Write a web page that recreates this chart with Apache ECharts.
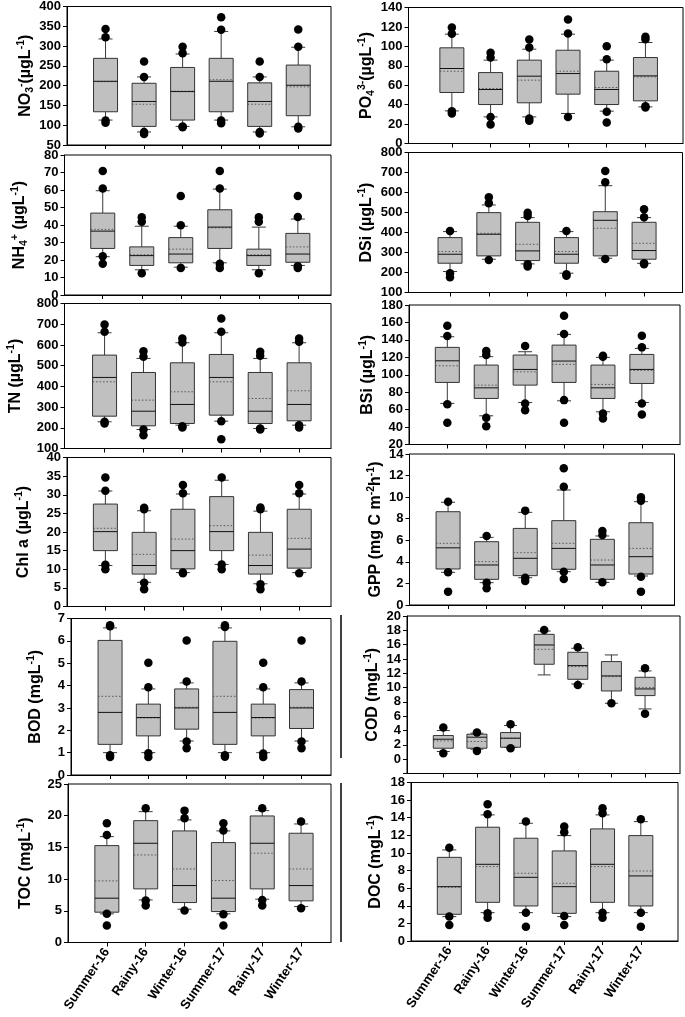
<!DOCTYPE html>
<html><head><meta charset="utf-8">
<script src="https://cdn.jsdelivr.net/npm/echarts@6/dist/echarts.min.js"></script>
<style>html,body{margin:0;padding:0;background:#fff}#c{width:685px;height:1017px}</style>
</head><body><div id="c"></div>
<script>
// ---------------- DATA ----------------
const categories = ['Summer-16','Rainy-16','Winter-16','Summer-17','Rainy-17','Winter-17'];
// stats rows: [lower whisker, Q1, median, Q3, upper whisker]
const NO3_stats = [[113,134,211,269,318],[83,97,160,206,222],[97,113,185,246,280],[113,134,211,269,337],[83,97,160,207,222],[96,124,201,252,297]];
const NO3_mean  = [210,153,186,215,153,197];
const NO3_dots  = [[343,322,112,106],[261,222,83,78],[298,282,97,95],[373,341,112,105],[261,222,83,79],[342,298,96,92]];

const PO4_stats = [[33.6,52.5,77.2,98.5,112.5],[27.4,40.1,55.6,73,85.8],[27.4,41.9,69.3,85.8,97.1],[30.9,50.8,72,96,112.5],[33.3,40.1,55.6,74.4,85.8],[37.7,43.9,69.6,88.5,104]];
const PO4_mean  = [74.4,56.6,65.2,74.4,57.6,68.6];
const PO4_dots  = [[119.4,113,33.3,31],[93.3,88.5,27.4,19.6],[107,98.8,25.7,23.3],[127.6,113.2,27.4],[100.2,86.8,32.6,21.6],[109.8,107.4,38.4,37]];

const NH4_stats = [[21.9,26.6,36.5,46.8,59.6],[14.4,16.9,22.5,27.5,39.3],[15.9,18.4,23.4,32.8,39.3],[18.4,26.6,38.8,48.7,60.5],[14.4,16.9,22.5,26.2,38.8],[16.9,18.7,23.4,35.2,43.4]];
const NH4_mean  = [37.5,23,26.2,38.4,23,27.5];
const NH4_dots  = [[70.8,60.9,22.1,17.8],[44.4,41.8,12.5],[56.6,39.9,15.5],[70.8,60.9,17.8,15.5],[44.4,41.8,12.5],[56.6,44.6,16.5,15.4]];

const DSi_stats = [[204.8,246.4,291.3,374.5,404.5],[266.4,283,391.2,499.3,537.6],[243,259.7,308,451,474.4],[196.5,246.4,291.3,374.5,404.5],[271.4,283,461,504,634],[246,266.4,309.7,451,474.4]];
const DSi_mean  = [304.7,396,341,304.7,421,346];
const DSi_dots  = [[407.8,196.5,176.5],[575.9,545.9,263],[499,482.7,241,229.8],[407.8,191.5,183.2],[707,650.7,268],[516,476,246,241]];

const TN_stats = [[228.8,256,443,550.9,658.8],[191.8,209.5,280,467,534.8],[212.7,220.8,312.6,513.8,610.5],[232,261,443,554,658.8],[196.6,220.8,280,467,534.8],[212.7,233.7,312.6,513.8,610.5]];
const TN_mean  = [422,333.5,373.8,422,341.5,378.6];
const TN_dots  = [[699,663.6,228.8,220.8],[570,542.8,191.8,164.4],[631.4,612,207.9,201.4],[728,663.6,232,145],[567,547.7,196.6,191.8],[631.4,615.3,212.7,201.4]];

const BSi_stats = [[67.1,91.2,116,131.4,143.6],[52.9,72.8,85,111.1,120.7],[68.2,88.1,106.1,122.6,126.4],[70.1,91.2,115.7,134,146.3],[57.5,72.8,85,111.1,119.9],[68.2,90,106.1,123.3,130.2]];
const BSi_mean  = [110.3,88.1,103.4,111.9,88.9,105];
const BSi_dots  = [[156.3,144.4,66.3,44.9],[127.2,122.6,50.6,41],[132.9,67.1,59.4],[167.7,146.7,70.9,44.9],[121.8,120.7,55.6,49.9],[144.8,131.4,67.1,54.4]];

const Chl_stats = [[11,15,20.1,27.5,31],[6.5,8.7,11,19.9,25.7],[9.1,10.1,15,26.1,30.2],[11.3,15,20.1,29.5,33.9],[6.1,8.7,11,19.9,25.6],[9.1,10.3,15.4,26.1,30.2]];
const Chl_mean  = [21,14,18.1,21.7,13.8,18.3];
const Chl_dots  = [[34.6,31.1,11.2,10],[26.5,26.1,6.4,4.6],[32.6,30.4,9.1,8.9],[34.6,11.3,10],[26.6,26.1,6,4.6],[32.6,30.4,8.9]];

const GPP_stats = [[3.03,3.34,5.3,8.65,9.52],[2.07,2.38,3.71,5.87,6.27],[2.53,2.72,4.33,7.1,8.59],[3.09,3.31,5.25,7.82,10.66],[2.1,2.38,3.71,6.09,6.4],[2.69,2.87,4.48,7.63,9.58]];
const GPP_mean  = [5.72,4.02,4.85,5.72,4.17,5.25];
const GPP_dots  = [[9.58,3.03,1.24],[6.4,2.07,1.55],[8.75,2.53,2.22],[12.67,10.97,3.09,2.41],[6.86,6.49,2.1],[9.98,9.67,2.63,1.24]];

const BOD_stats = [[1,1.37,2.8,6.02,6.58],[1,1.75,2.57,3.17,3.85],[1.52,2.05,3,3.85,4.12],[1,1.37,2.8,5.98,6.58],[1,1.75,2.57,3.17,3.85],[1.52,2.08,3,3.82,4.12]];
const BOD_mean  = [3.52,2.55,3.03,3.52,2.55,3.03];
const BOD_dots  = [[6.7,6.65,0.88,0.8],[5.02,3.92,0.97,0.8],[6.02,4.18,1.5,1.2],[6.7,6.62,0.88,0.82],[5.02,3.92,0.96,0.8],[6.02,4.18,1.5,1.2]];

const COD_stats = [[1.07,1.53,2.79,3.3,4.0],[1.4,1.53,3.07,3.49,3.63],[1.63,1.67,2.93,3.72,4.7],[11.77,13.26,15.95,17.44,17.9],[10.51,11.16,13.07,14.93,15.49],[7.81,9.53,11.63,13.63,14.56],[7.02,8.88,9.81,11.44,12.33]];
const COD_mean  = [2.56,2.47,2.93,15.35,12.93,11.53,10];
const COD_dots  = [[4.42,0.84],[3.72,1.16],[4.88,1.53],[18.05],[15.63,10.37],[7.81],[12.7,6.33]];

const TOC_stats = [[4.52,4.78,6.99,15.28,16.7],[6.72,8.46,15.65,19.22,20.64],[5.25,6.3,8.98,17.6,19.33],[4.52,4.88,6.99,15.76,17.6],[6.83,8.46,15.65,19.96,20.8],[5.67,6.57,8.98,17.23,18.7]];
const TOC_mean  = [9.72,13.81,11.6,9.77,14.08,11.6];
const TOC_dots  = [[18.8,16.96,4.52,2.68],[21.17,6.62,5.83],[20.8,19.6,5.04],[18.8,17.65,4.46,2.68],[21.17,6.72,5.83],[19.07,5.41]];

const DOC_stats = [[2.77,3.03,6.17,9.5,10.34],[3.22,4.39,8.71,12.92,14.32],[3.22,3.98,7.23,11.67,13.37],[2.77,3.14,6.17,10.23,11.97],[3.22,4.39,8.71,12.73,14.32],[3.22,3.98,7.39,11.97,13.56]];
const DOC_mean  = [6.1,8.45,7.69,6.55,8.45,7.95];
const DOC_dots  = [[10.6,2.77,1.82],[15.53,14.39,3.14,2.65],[13.56,3.22,1.63],[12.99,12.35,2.84,1.82],[15.08,14.5,3.22,2.65],[13.83,3.22,1.63]];

// ---------------- LAYOUT ----------------
const FONT = '"Liberation Sans", Arial, Helvetica, sans-serif';
const panels = [
  {stats:NO3_stats, mean:NO3_mean, dots:NO3_dots, name:'NO{sub|3}{sup|-}(µgL{sup|-1})', y:[50,400,50], L:67, R:331, T:5, B:145, x:[0,6.85], gap:30, bw:24, cw:14},
  {stats:PO4_stats, mean:PO4_mean, dots:PO4_dots, name:'PO{sub|4}{sup|3-}(µgL{sup|-1})', y:[0,140,20], L:408.5, R:683, T:7.5, B:143.5, x:[-0.12,6.97], gap:23, bw:24, cw:14},
  {stats:NH4_stats, mean:NH4_mean, dots:NH4_dots, name:'NH{sub|4}{sup|+} (µgL{sup|-1})', y:[0,80,10], L:64.5, R:331, T:155, B:295, x:[0.02,6.85], gap:35, bw:24, cw:14},
  {stats:DSi_stats, mean:DSi_mean, dots:DSi_dots, name:'DSi (µgL{sup|-1})', y:[100,800,100], L:408.5, R:682.5, T:152.5, B:292.5, x:[-0.07,6.99], gap:32, bw:24, cw:14},
  {stats:TN_stats, mean:TN_mean, dots:TN_dots, name:'TN (µgL{sup|-1})', y:[100,800,100], L:64.5, R:331, T:303.5, B:448.5, x:[-0.03,6.82], gap:39, bw:24, cw:14},
  {stats:BSi_stats, mean:BSi_mean, dots:BSi_dots, name:'BSi (µgL{sup|-1})', y:[20,180,20], L:409, R:680, T:305, B:444.5, x:[0.015,6.98], gap:31, bw:24, cw:14},
  {stats:Chl_stats, mean:Chl_mean, dots:Chl_dots, name:'Chl a (µgL{sup|-1})', y:[0,40,5], L:67, R:331, T:457.5, B:606.5, x:[0.01,6.82], gap:33, bw:24, cw:14},
  {stats:GPP_stats, mean:GPP_mean, dots:GPP_dots, name:'GPP (mg C m{sup|-2}h{sup|-1})', y:[0,14,2], L:409.5, R:674.5, T:454, B:605, x:[0,6.87], gap:23, bw:24, cw:14},
  {stats:BOD_stats, mean:BOD_mean, dots:BOD_dots, name:'BOD (mgL{sup|-1})', y:[0,7,1], L:71, R:331, T:618.5, B:775, x:[-0.02,6.77], gap:25, bw:24, cw:14},
  {stats:COD_stats, mean:COD_mean, dots:COD_dots, name:'COD (mgL{sup|-1})', y:[-2,20,2], L:407, R:680, T:616, B:773.5, x:[-0.08,8.04], gap:20, bw:20, cw:13},
  {stats:TOC_stats, mean:TOC_mean, dots:TOC_dots, name:'TOC (mgL{sup|-1})', y:[0,25,5], L:68, R:331, T:784, B:942.5, x:[0,6.77], gap:32, bw:24, cw:14, labels:true},
  {stats:DOC_stats, mean:DOC_mean, dots:DOC_dots, name:'DOC (mgL{sup|-1})', y:[0,18,2], L:411, R:678, T:782.5, B:941, x:[0,6.97], gap:25, bw:24, cw:14, labels:true}
];

function makeRender(bw, cw) {
  return function (params, api) {
    const xv = api.value(0);
    const pt = k => api.coord([xv, api.value(k)]);
    const lo = pt(1), q1 = pt(2), med = pt(3), q3 = pt(4), hi = pt(5), mn = pt(6);
    const cx = lo[0];
    const wStyle = {stroke:'#3a3a3a', lineWidth:1};
    return {type:'group', children:[
      {type:'line', shape:{x1:cx, y1:hi[1], x2:cx, y2:q3[1]}, style:wStyle},
      {type:'line', shape:{x1:cx, y1:q1[1], x2:cx, y2:lo[1]}, style:wStyle},
      {type:'line', shape:{x1:cx-cw/2, y1:hi[1], x2:cx+cw/2, y2:hi[1]}, style:wStyle},
      {type:'line', shape:{x1:cx-cw/2, y1:lo[1], x2:cx+cw/2, y2:lo[1]}, style:wStyle},
      {type:'rect', shape:{x:cx-bw/2, y:q3[1], width:bw, height:q1[1]-q3[1]}, style:{fill:'#c0c0c0', stroke:'#333', lineWidth:1}},
      {type:'line', shape:{x1:cx-bw/2, y1:mn[1], x2:cx+bw/2, y2:mn[1]}, style:{stroke:'#555', lineWidth:1, lineDash:[1.5,2]}},
      {type:'line', shape:{x1:cx-bw/2, y1:med[1], x2:cx+bw/2, y2:med[1]}, style:{stroke:'#111', lineWidth:1}}
    ]};
  };
}

const grid=[], xAxis=[], yAxis=[], series=[];
panels.forEach((p,i) => {
  grid.push({left:p.L, top:p.T, width:p.R-p.L, height:p.B-p.T, show:true, borderColor:'#000', borderWidth:1, backgroundColor:'transparent'});
  const ticks = p.stats.map((_,k)=>k+1);
  xAxis.push({
    gridIndex:i, type:'value', min:p.x[0], max:p.x[1],
    axisLine:{show:true, onZero:false, lineStyle:{color:'#000', width:1}},
    axisTick:{show:true, customValues:ticks, length:4, lineStyle:{color:'#000'}},
    splitLine:{show:false},
    axisLabel: p.labels ? {show:true, customValues:ticks, formatter:v=>categories[Math.round(v)-1]||'', rotate:56, fontFamily:FONT, fontWeight:'bold', fontSize:13, color:'#000', margin:7} : {show:false}
  });
  yAxis.push({
    gridIndex:i, type:'value', min:p.y[0], max:p.y[1], interval:p.y[2],
    axisLine:{show:true, onZero:false, lineStyle:{color:'#000', width:1}},
    axisTick:{show:true, length:4, lineStyle:{color:'#000'}},
    splitLine:{show:false},
    axisLabel:{fontFamily:FONT, fontWeight:'bold', fontSize:13, color:'#000', margin:6, formatter:v=>v<0?'':String(v)},
    name:p.name, nameLocation:'middle', nameRotate:90, nameGap:p.gap,
    nameTextStyle:{fontFamily:FONT, fontWeight:'bold', fontSize:16, color:'#000', lineHeight:20,
      rich:{
        sub:{fontFamily:FONT, fontWeight:'bold', fontSize:10.5, color:'#000', lineHeight:10, verticalAlign:'bottom'},
        sup:{fontFamily:FONT, fontWeight:'bold', fontSize:10.5, color:'#000', lineHeight:10, verticalAlign:'top'}
      }}
  });
  series.push({
    type:'custom', coordinateSystem:'cartesian2d', xAxisIndex:i, yAxisIndex:i,
    encode:{x:0, y:[1,2,3,4,5,6]}, silent:true, z:2,
    data:p.stats.map((s,k)=>[k+1, s[0], s[1], s[2], s[3], s[4], p.mean[k]]),
    renderItem:makeRender(p.bw, p.cw)
  });
  const dots=[];
  p.dots.forEach((arr,k)=>arr.forEach(v=>dots.push([k+1, v])));
  series.push({type:'scatter', xAxisIndex:i, yAxisIndex:i, data:dots, symbol:'circle', symbolSize:8.5, itemStyle:{color:'#000', opacity:1}, silent:true, z:3});
});

const chart = echarts.init(document.getElementById('c'));
chart.setOption({
  animation:false, backgroundColor:'#fff',
  grid, xAxis, yAxis, series,
  graphic:[
    {type:'line', shape:{x1:341, y1:615, x2:341, y2:758}, style:{stroke:'#000', lineWidth:1.5}, silent:true},
    {type:'line', shape:{x1:341, y1:783, x2:341, y2:942}, style:{stroke:'#000', lineWidth:1.5}, silent:true}
  ]
});
</script></body></html>
